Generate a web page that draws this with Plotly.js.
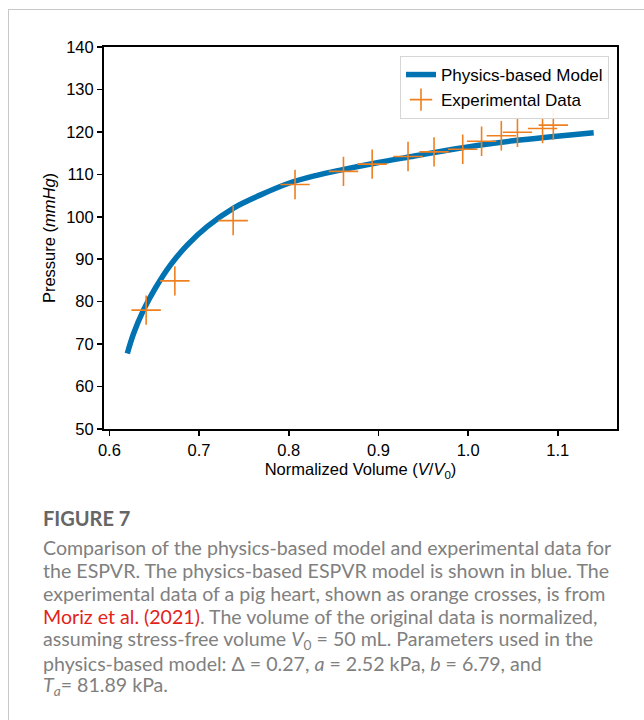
<!DOCTYPE html>
<html>
<head>
<meta charset="utf-8">
<script src="https://cdn.plot.ly/plotly-3.0.1.min.js"></script>
<style>
  html, body { margin: 0; padding: 0; background: #fff; }
  #chart { width: 644px; height: 720px; }
</style>
</head>
<body>
<div id="chart"></div>
<script>
// Physics-based model curve
const modelVolume = [0.620, 0.627, 0.638, 0.651, 0.668, 0.687, 0.709, 0.738, 0.768, 0.800, 0.830, 0.860, 0.900, 0.940, 0.980, 1.010, 1.050, 1.090, 1.140];
const modelPressure = [67.8, 72.5, 78.0, 83.1, 88.6, 93.4, 97.7, 102.0, 105.1, 107.9, 109.7, 111.1, 112.8, 114.3, 115.8, 116.8, 117.9, 118.8, 119.8];

// Experimental data (orange crosses)
const expVolume = [0.641, 0.673, 0.738, 0.807, 0.861, 0.893, 0.933, 0.962, 0.994, 1.015, 1.037, 1.055, 1.083, 1.095];
const expPressure = [78.0, 84.9, 99.1, 107.6, 110.7, 112.4, 114.2, 115.3, 115.9, 117.8, 119.1, 119.9, 120.8, 121.6];

const xTickVals = [0.6, 0.7, 0.8, 0.9, 1.0, 1.1];
const xTickText = ["0.6", "0.7", "0.8", "0.9", "1.0", "1.1"];
const yTickVals = [50, 60, 70, 80, 90, 100, 110, 120, 130, 140];

const captionLines = [
  "Comparison of the physics-based model and experimental data for",
  "the ESPVR. The physics-based ESPVR model is shown in blue. The",
  "experimental data of a pig heart, shown as orange crosses, is from",
  "<span style=\"color:#e2231a\">Moriz et al. (2021)</span>. The volume of the original data is normalized,",
  "assuming stress-free volume <i>V</i><sub>0</sub> = 50 mL. Parameters used in the",
  "physics-based model: Δ = 0.27, <i>a</i> = 2.52 kPa, <i>b</i> = 6.79, and",
  "<i>T</i><sub><i>a</i></sub>= 81.89 kPa."
];

// Layout geometry (pixels)
const W = 644, H = 720;
const L = 104, R = 617, T = 47, B = 429;
const px = x => (x - L) / (R - L);
const py = y => (B - y) / (B - T);

const annotations = [];
annotations.push({
  text: "FIGURE 7", xref: "paper", yref: "paper",
  x: px(41), y: py(518), xanchor: "left", yanchor: "middle", showarrow: false,
  font: { family: "Lato, 'Open Sans', sans-serif", size: 20, color: "#666666", weight: 700 }
});
captionLines.forEach((t, i) => {
  annotations.push({
    text: t, xref: "paper", yref: "paper",
    x: px(41), y: py(547 + i * 23.2), xanchor: "left", yanchor: "middle", showarrow: false,
    align: "left",
    font: { family: "Lato, 'Open Sans', sans-serif", size: 19.6, color: "#808080" }
  });
});

const axisFont = { family: "'Liberation Sans', Arial, Helvetica, sans-serif", size: 16.5, color: "#000" };
const legendFont = { family: "'Liberation Sans', Arial, Helvetica, sans-serif", size: 17, color: "#000" };

const data = [
  {
    x: modelVolume, y: modelPressure, type: "scatter", mode: "lines",
    name: "Physics-based Model",
    line: { color: "#0173b2", width: 5.5, shape: "spline", smoothing: 1.0 }
  },
  {
    x: expVolume, y: expPressure, type: "scatter", mode: "markers",
    name: "Experimental Data",
    marker: { symbol: "cross-thin-open", size: 21, color: "#ee8020", line: { color: "#ee8020", width: 1.6 } }
  }
];

const layout = {
  width: W, height: H,
  margin: { l: L, r: W - R, t: T, b: H - B, pad: 0 },
  paper_bgcolor: "#ffffff", plot_bgcolor: "#ffffff",
  showlegend: true,
  legend: {
    x: px(609), y: py(56), xanchor: "right", yanchor: "top",
    bgcolor: "rgba(255,255,255,0.9)", bordercolor: "#d6d6d6", borderwidth: 1,
    font: legendFont, tracegroupgap: 0
  },
  xaxis: {
    range: [0.594, 1.166], tickvals: xTickVals, ticktext: xTickText,
    ticks: "outside", ticklen: 5, tickwidth: 1.5, tickcolor: "#000",
    showline: true, linecolor: "#000", linewidth: 2, mirror: true,
    showgrid: false, zeroline: false, tickfont: axisFont,
    title: { text: "Normalized Volume (<i>V</i>/<i>V</i><sub>0</sub>)", font: axisFont, standoff: 6 }
  },
  yaxis: {
    range: [50, 140], tickvals: yTickVals,
    ticks: "outside", ticklen: 5, tickwidth: 1.5, tickcolor: "#000",
    showline: true, linecolor: "#000", linewidth: 2, mirror: true,
    showgrid: false, zeroline: false, tickfont: axisFont,
    title: { text: "Pressure (<i>mmHg</i>)", font: axisFont, standoff: 6 }
  },
  shapes: [
    { type: "line", xref: "paper", yref: "paper", x0: px(8), x1: px(644), y0: py(9.5), y1: py(9.5), line: { color: "#c8c8c8", width: 1 } },
    { type: "line", xref: "paper", yref: "paper", x0: px(8.5), x1: px(8.5), y0: py(9), y1: py(720), line: { color: "#c8c8c8", width: 1 } }
  ],
  annotations: annotations
};

Plotly.newPlot("chart", data, layout, { displayModeBar: false, staticPlot: true });
</script>
</body>
</html>
